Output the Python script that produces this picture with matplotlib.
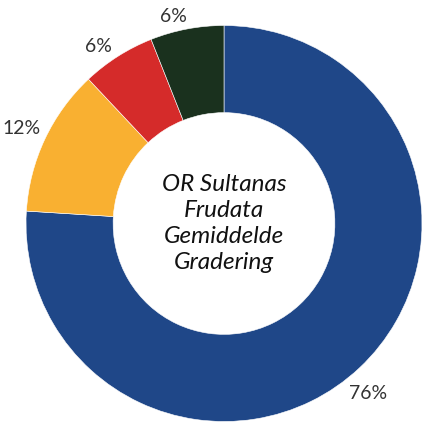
import numpy as np
import matplotlib
matplotlib.use('Agg')
import matplotlib.pyplot as plt

shares = [76, 12, 6, 6]
colors = ['#1f4788', '#f9b031', '#d52b2a', '#1a311e']
center_text = 'OR Sultanas\nFrudata\nGemiddelde\nGradering'
# label placement relative to each wedge (radius, angle shift in degrees)
label_dist = [1.125, 1.13, 1.095, 1.075]
label_shift = [-3, 0, 3, 3]

plt.rcParams['font.family'] = ['Lato', 'DejaVu Sans']

fig = plt.figure(figsize=(4.22, 4.24), dpi=100)
ax = fig.add_axes([26/422, 2.5/424, 396/422, 396/424])

wedges, texts = ax.pie(shares, colors=colors, startangle=90, counterclock=False,
                       radius=1.0,
                       wedgeprops=dict(width=0.44, edgecolor='white', linewidth=0.4))

for w, v, d, s in zip(wedges, shares, label_dist, label_shift):
    ang = np.deg2rad((w.theta1 + w.theta2) / 2 + s)
    ax.text(d*np.cos(ang), d*np.sin(ang), '%d%%' % v, ha='center', va='center',
            color='#333333', fontsize=14)

ax.text(0, 0.0, center_text, ha='center', va='center', fontsize=17.5, style='italic',
        color='#111111', linespacing=1.28)

ax.set_xlim(-1, 1)
ax.set_ylim(-1, 1)
ax.set_aspect('equal')
ax.axis('off')

plt.savefig('out.png', dpi=100)
